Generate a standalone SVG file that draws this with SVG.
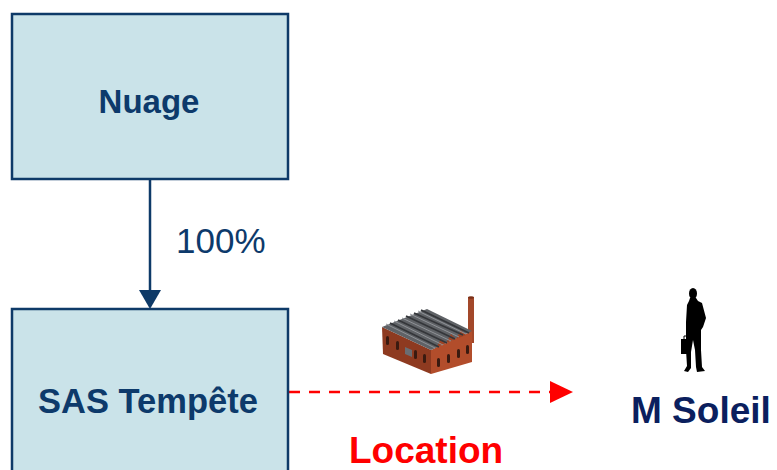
<svg xmlns="http://www.w3.org/2000/svg" width="777" height="470" viewBox="0 0 777 470">
<style>
.box{fill:#cae3e9;stroke:#0e3a68;stroke-width:2.5}
.lbl{font-family:"Liberation Sans",Arial,sans-serif;font-weight:bold;fill:#0d3a6b;text-anchor:middle}
.pct{font-family:"Liberation Sans",Arial,sans-serif;fill:#0d3a6b;font-size:35px}
.red{font-family:"Liberation Sans",Arial,sans-serif;font-weight:bold;fill:#ff0000;font-size:37px}
.person{font-family:"Liberation Sans",Arial,sans-serif;font-weight:bold;fill:#0b1f5e;font-size:37px}
</style>
<rect width="777" height="470" fill="#ffffff"/>
<g id="connectors">
  <line x1="150" y1="180" x2="150" y2="292" stroke="#0e3a68" stroke-width="2.5"/>
  <polygon points="139,290 161,290 150,309" fill="#0e3a68"/>
  <text class="pct" x="176" y="253">100%</text>
  <line x1="289" y1="392" x2="552" y2="392" stroke="#ff0000" stroke-width="2.6" stroke-dasharray="11,9"/>
  <polygon points="550,381 573,392 550,403" fill="#ff0000"/>
  <text class="red" x="349" y="463">Location</text>
</g>
<g id="nuage">
  <rect class="box" x="12" y="14" width="276" height="165"/>
  <text class="lbl" x="149" y="113" font-size="33">Nuage</text>
</g>
<g id="sas">
  <rect class="box" x="12" y="309" width="276" height="200"/>
  <text class="lbl" x="148" y="413" font-size="34.5">SAS Tempête</text>
</g>
<g id="factory">
  <rect x="468" y="297" width="6" height="46" fill="#a3482a"/>
  <ellipse cx="471" cy="297.5" rx="3" ry="1.2" fill="#7a3018"/>
  <polygon points="382,327 431,350 431,374 383,354" fill="#8e3a20"/>
  <polygon points="431,350 472,331 472,362 431,374" fill="#b24d2b"/>
  <polygon points="382,327 427,309 472,331 431,350" fill="#5f6266"/>
  <g fill="#9c4324">
    <polygon points="436,348 441,339 446,343"/>
    <polygon points="446,343 451,334 456,339"/>
    <polygon points="456,339 461,330 466,335"/>
  </g>
  <g stroke="#34363a" stroke-width="1.8">
    <line x1="390" y1="323" x2="439" y2="347"/>
    <line x1="398" y1="320" x2="447" y2="343"/>
    <line x1="406" y1="316" x2="455" y2="339"/>
    <line x1="414" y1="313" x2="463" y2="335"/>
    <line x1="421" y1="310" x2="469" y2="333"/>
  </g>
  <g stroke="#8f9297" stroke-width="1">
    <line x1="386" y1="324" x2="435" y2="348"/>
    <line x1="394" y1="321" x2="443" y2="345"/>
    <line x1="402" y1="318" x2="451" y2="341"/>
    <line x1="410" y1="314" x2="459" y2="337"/>
    <line x1="418" y1="311" x2="466" y2="334"/>
  </g>
  <g fill="#3a1a10">
    <rect x="386" y="336" width="3" height="9" rx="1.5"/>
    <rect x="396" y="341" width="3" height="9" rx="1.5"/>
    <rect x="414" y="350" width="3" height="9" rx="1.5"/>
    <rect x="423" y="354" width="3" height="9" rx="1.5"/>
    <rect x="437" y="358" width="3" height="9" rx="1.5"/>
    <rect x="447" y="354" width="3" height="9" rx="1.5"/>
    <rect x="457" y="349" width="3" height="9" rx="1.5"/>
    <rect x="466" y="345" width="3" height="9" rx="1.5"/>
  </g>
  <polygon points="405,347 412,350 412,357 405,354" fill="#6a6d72"/>
</g>
<g id="msoleil">
  <ellipse cx="693" cy="293.5" rx="4" ry="5.5" fill="#000"/>
  <path d="M690,298 L696,298 L698,301 L702,303 L706,318 L703,327 L701,330 L701,350 L702,367 L705,371 L697,372 L696,367 L695,350 L693,340 L691,352 L691,368 L688,372 L684,371 L687,366 L686,350 L686,338 L686,322 L687,305 L689,301 Z" fill="#000"/>
  <rect x="681" y="339" width="9" height="15" fill="#000"/>
  <path d="M684,339 L684,336 L688,336 L688,339" fill="none" stroke="#000" stroke-width="1"/>
  <text class="person" x="631" y="423">M Soleil</text>
</g>
</svg>
